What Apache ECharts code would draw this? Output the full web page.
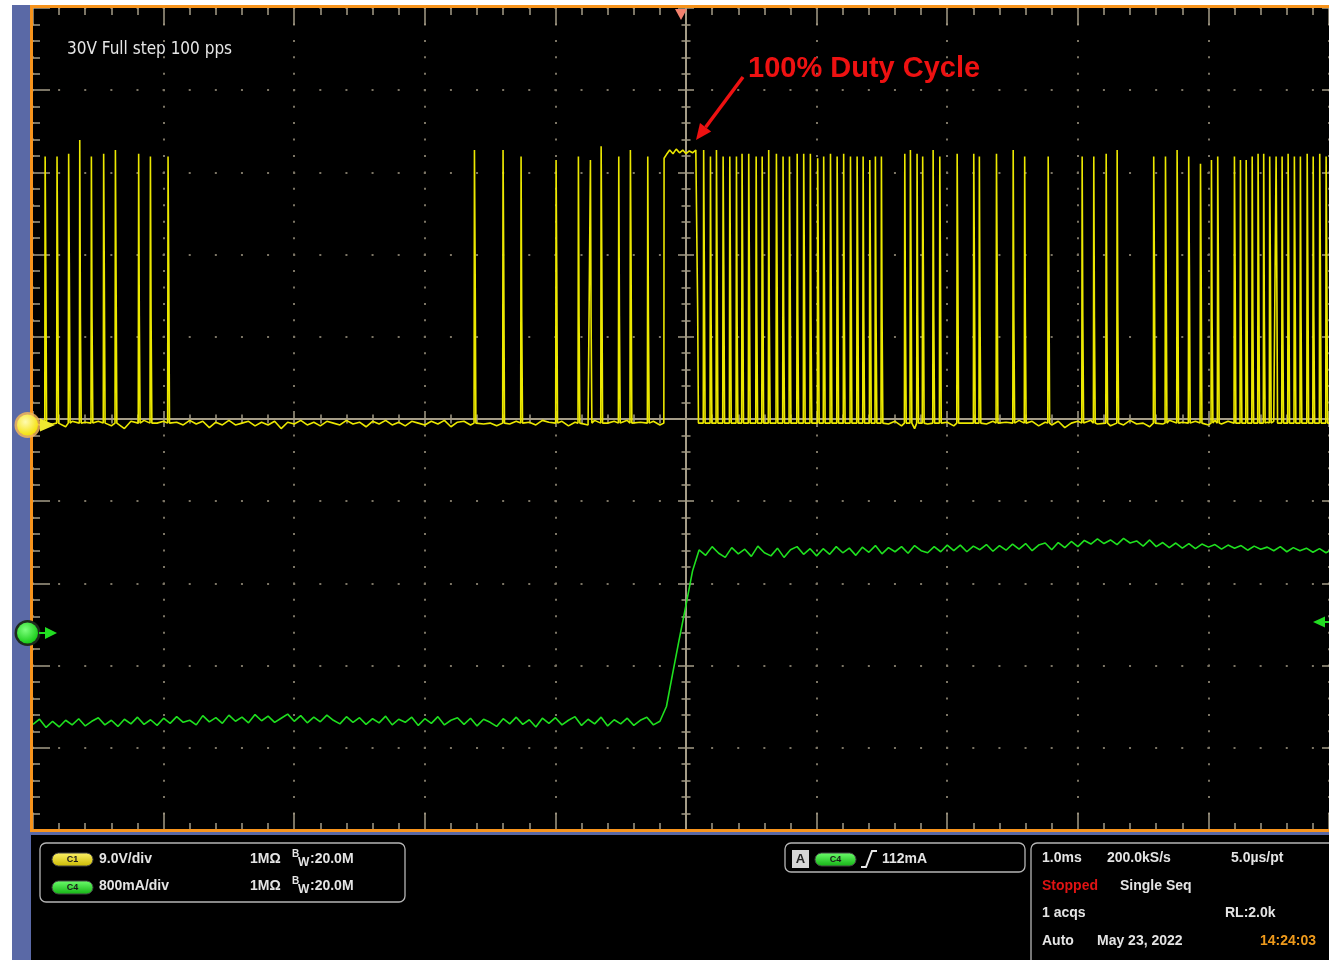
<!DOCTYPE html>
<html><head><meta charset="utf-8">
<script src="https://cdn.jsdelivr.net/npm/echarts@6/dist/echarts.min.js"></script>
<style>html,body{margin:0;padding:0;background:#fff;overflow:hidden}#c{width:1329px;height:960px}</style>
</head><body><div id="c"></div><script>
// ---- Channel 1 (9.0 V/div): pulse edges, times in ms, levels in V ----
const pulseTimes = [
 -4.910,-4.819,-4.730,-4.645,-4.556,-4.462,-4.372,-4.194,-4.104,-3.969,
 -1.623,-1.404,-1.266,-0.998,-0.827,-0.735,-0.653,-0.518,-0.429,-0.296,
 0.132,0.184,0.230,0.281,0.332,0.383,0.426,0.477,0.534,0.580,
 0.630,0.689,0.740,0.789,0.848,0.898,0.949,1.005,1.051,1.103,
 1.154,1.204,1.256,1.307,1.353,1.404,1.447,1.493,
 1.672,1.715,1.766,1.809,1.889,1.940,2.073,2.200,2.243,2.374,
 2.502,2.590,2.770,3.030,3.119,3.214,3.298,3.578,3.668,3.757,
 3.846,3.936,4.020,4.068,4.196,4.242,4.286,4.332,4.377,4.420,
 4.466,4.515,4.561,4.607,4.655,4.701,4.753,4.799,4.849,4.898];
const pulsePeaks = [
 29.2,29.2,29.5,31.0,29.2,29.5,29.9,29.5,29.2,29.2,
 29.9,29.9,29.2,28.8,29.2,28.8,30.3,29.2,29.9,29.2,
 29.9,29.2,29.9,29.2,29.2,29.2,29.5,29.5,29.2,29.2,
 29.9,29.5,29.2,29.2,29.5,29.5,29.5,29.0,29.2,29.5,
 29.2,29.5,29.2,29.2,29.2,28.8,29.2,29.2,
 29.5,29.9,29.5,29.2,29.9,29.2,29.5,29.5,29.2,29.5,
 29.9,29.2,29.2,29.2,29.2,29.5,29.9,29.2,29.2,29.9,
 29.2,28.4,28.8,29.2,29.2,28.8,28.8,29.2,29.5,29.5,
 29.2,29.2,29.2,29.5,29.2,29.2,29.5,29.2,29.5,29.2];
const pulseMids = [
 17.3,17.3,17.6,11.7,11.6,29.3,29.7,11.7,11.7,17.5,
 18.0,18.0,11.7,17.0,11.6,11.6,18.2,11.7,18.2,11.6,
 17.6,11.8,17.5,17.3,17.3,11.7,17.3,17.3,11.7,17.3,
 11.7,17.4,11.7,17.3,11.7,17.3,11.6,17.5,17.3,17.3,
 17.5,11.7,17.3,17.3,11.7,17.3,11.6,11.6,
 11.7,17.6,11.7,17.3,11.7,17.3,17.6,17.3,11.7,17.5,
 11.7,11.6,17.3,11.7,11.6,11.7,12.0,17.3,17.5,17.8,
 17.3,17.1,11.4,17.3,17.3,11.6,17.3,11.7,17.5,11.7,
 17.6,17.5,11.6,17.6,17.5,11.7,17.5,11.7,17.5,17.1];
// the 100% duty-cycle block
const widePulseTimes  = [-0.168,-0.150,-0.125,-0.100,-0.075,-0.050,-0.025,0.000,0.025,0.050,0.075,0.084];
const widePulseLevels = [29.0,29.4,29.9,29.5,30.0,29.6,29.9,29.5,29.8,29.6,29.9,29.7];
const wideFallMid = 12.4;
// ch1 baseline, one value each 0.05 ms from -5 ms (V)
const ch1Noise = [
 0.1,-0.2,0.3,-0.1,0.0,-0.4,0.2,-0.2,0.1,-0.3,
 0.2,0.0,-0.3,0.1,-0.6,0.2,-0.1,0.3,-0.2,0.0,
 0.2,-0.3,0.1,-0.2,0.3,-0.1,0.2,-0.5,0.1,-0.2,
 0.3,-0.2,0.0,0.2,-0.3,0.1,-0.2,0.2,-0.6,0.1,
 -0.1,0.3,-0.2,0.1,-0.3,0.2,0.0,-0.2,0.3,-0.1,
 0.1,-0.4,0.2,-0.1,0.3,-0.2,0.1,-0.3,0.2,0.0,
 -0.2,0.2,-0.1,0.3,-0.4,0.1,0.2,-0.2,0.3,-0.1,
 0.0,-0.3,0.2,-0.1,0.2,-0.6,0.1,-0.2,0.3,0.1,
 -0.2,0.2,-0.3,0.1,0.2,-0.2,0.3,-0.4,0.0,0.2,
 -0.2,0.3,-0.1,0.1,-0.3,0.2,-0.2,0.3,-0.1,0.0,
 0.2,-0.3,0.1,-0.2,0.3,-0.1,0.0,-0.4,0.2,-0.1,
 0.3,-0.2,0.1,-0.5,0.2,0.0,-0.2,0.3,-0.1,0.1,
 -0.3,0.2,-0.1,0.3,-0.2,0.1,-0.4,0.2,0.0,-0.2,
 0.3,-0.1,0.2,-0.3,0.1,-0.6,0.2,-0.1,0.3,-0.2,
 0.1,-0.3,0.2,0.0,-0.2,0.3,-0.1,0.2,-0.4,0.1,
 -0.2,0.3,-0.1,0.2,-0.3,0.1,-0.2,0.2,-0.5,0.0,
 0.2,-0.2,0.3,-0.1,0.1,-0.3,0.2,-0.2,0.3,-0.1,
 0.0,-0.4,0.2,-0.1,0.3,-0.2,0.1,-0.6,0.2,0.0,
 -0.2,0.3,-0.1,0.2,-0.3,0.1,-0.2,0.3,-0.4,0.1,
 0.2,-0.2,0.1,-0.3,0.3,-0.1,0.2,-0.2,0.1,0.0];
// ---- Channel 4 (800 mA/div): one value each 0.05 ms from -5 ms (mA) ----
const ch4Current = [
 -900,-850,-930,-870,-925,-860,-905,-845,-915,-870,
 -835,-905,-860,-920,-850,-895,-830,-900,-855,-910,
 -840,-890,-825,-880,-860,-905,-815,-875,-835,-890,
 -810,-870,-830,-885,-805,-865,-820,-880,-840,-800,
 -870,-815,-885,-830,-875,-810,-860,-895,-825,-880,
 -835,-900,-845,-885,-820,-905,-850,-880,-830,-910,
 -845,-890,-825,-905,-860,-835,-900,-840,-915,-850,
 -880,-920,-845,-895,-830,-900,-855,-925,-840,-890,
 -835,-905,-860,-825,-910,-850,-895,-830,-915,-855,
 -895,-840,-910,-860,-830,-905,-870,
 -726,-389,-58,263,594,798,
 745,830,765,725,820,760,805,735,835,770,740,815,725,800,830,755,810,740,
 810,755,830,770,815,745,825,775,840,760,820,780,830,765,840,790,770,830,780,845,
 790,845,780,835,800,850,785,840,795,855,805,860,790,845,865,800,870,820,880,830,
 890,855,905,860,895,850,910,865,885,835,895,830,870,820,865,815,860,810,855,825,
 850,805,845,815,840,795,835,805,825,790,830,780,820,790,815,775,810,770,805,785];

const tStart = -5, ch1Step = 0.05, ch4Step = 0.05;
const tMin = -5, tMax = 4.923;                // visible span of the 10-division screen
const ch1VoltsPerDiv = 9.0, ch1Pos = -0.05;   // divisions
const ch4mAPerDiv = 800, ch4Pos = -2.59;      // divisions

// build channel 1 trace
const pts = [];
pulseTimes.forEach((t, i) => {
  pts.push([t, 0], [t + 0.003, pulsePeaks[i]], [t + 0.008, pulseMids[i]], [t + 0.014, 0]);
});
const ws = widePulseTimes[0], we = widePulseTimes[widePulseTimes.length - 1];
pts.push([ws - 0.002, 0]);
widePulseTimes.forEach((t, i) => pts.push([t, widePulseLevels[i]]));
pts.push([we + 0.005, wideFallMid], [we + 0.011, 0]);
function busy(t) {
  if (t > ws - 0.02 && t < we + 0.03) return true;
  return pulseTimes.some(p => t > p - 0.015 && t < p + 0.03);
}
ch1Noise.forEach((v, k) => { const t = tStart + k * ch1Step; if (!busy(t)) pts.push([t, v]); });
pts.sort((a, b) => a[0] - b[0]);
const ch1Data = pts.map(p => [p[0], p[1] / ch1VoltsPerDiv + ch1Pos]);
const ch4Data = ch4Current.map((v, i) => [tStart + i * ch4Step, v / ch4mAPerDiv + ch4Pos]);

// ---- styling ----
const tickColor = '#a49c87', dotColor = '#7c7565', orange = '#f7941d', blue = '#5a69a6';
const hidden = { show: false };
const noLine = { show: false, onZero: false };
function xAx(pos, opts) {
  return Object.assign({ type: 'value', min: tMin, max: tMax, interval: 1, position: pos,
    axisLabel: hidden, axisLine: noLine, splitLine: { show: false } }, opts);
}
function yAx(pos, opts) {
  return Object.assign({ type: 'value', min: -5, max: 5, interval: 1, position: pos,
    axisLabel: hidden, axisLine: noLine, splitLine: { show: false } }, opts);
}
const ts = { color: tickColor, width: 1.5 };
const edgeTick = { show: true, inside: true, length: 17, lineStyle: ts };
const edgeMinor = { show: true, splitNumber: 5, length: 7, lineStyle: ts };
const cTickOut = { show: true, inside: false, length: 8, lineStyle: ts };
const cTickIn = { show: true, inside: true, length: 8, lineStyle: ts };
const cMinor = { show: true, splitNumber: 5, length: 4.5, lineStyle: ts };
const cLine = { show: true, onZero: false, lineStyle: { color: tickColor, width: 2 } };

const F = "'Liberation Sans', Arial, sans-serif";
const txtCol = '#e4e4e4';
function T(x, y, text, o) {
  o = o || {};
  return { type: 'text', x: x, y: y, z: 20, style: { text: text, fill: o.fill || txtCol,
    font: o.font || ('bold 14px ' + F), align: o.align || 'left', textAlign: o.align || 'left',
    verticalAlign: 'middle', textVerticalAlign: 'middle' } };
}
function pill(x, y, label, c1, c2) {
  return [
    { type: 'rect', z: 20, shape: { x: x, y: y, width: 41, height: 13, r: 6.5 },
      style: { fill: { type: 'linear', x: 0, y: 0, x2: 0, y2: 1, colorStops: [{ offset: 0, color: c1 }, { offset: 1, color: c2 }] },
        stroke: '#444', lineWidth: 1 } },
    T(x + 20.5, y + 7, label, { fill: '#1a1a1a', font: 'bold 9px ' + F, align: 'center' })
  ];
}
const box = (x, y, w, h) => ({ type: 'rect', z: 20, shape: { x: x, y: y, width: w, height: h, r: 6 },
  style: { fill: 'none', stroke: '#b5b5b5', lineWidth: 1.3 } });
const rect = (x, y, w, h, fill, z) => ({ type: 'rect', z: z || 1, shape: { x: x, y: y, width: w, height: h }, style: { fill: fill } });

const graphics = [
  rect(12, 5, 19, 955, blue),
  rect(31, 834, 1298, 126, '#000'),
  rect(31, 832, 1298, 3, blue),
  // screen frame
  rect(30, 5, 1299, 3, orange, 19),
  rect(30, 5, 3, 827, orange, 19),
  rect(30, 829, 1299, 3, orange, 19),
  // annotation
  T(67, 50, '30V Full step 100 pps', { font: "17px 'Liberation Sans Narrow', 'DejaVu Sans Condensed', sans-serif", fill: '#e6e6e6' }),
  T(748, 69, '100% Duty Cycle', { font: 'bold 29px ' + F, fill: '#ee1111' }),
  { type: 'polyline', z: 20, shape: { points: [[743, 77], [705.6, 127.2]] }, style: { stroke: '#ee1111', lineWidth: 3.5 } },
  { type: 'polygon', z: 20, shape: { points: [[696, 140], [711.2, 131.4], [700.0, 123.0]] }, style: { fill: '#ee1111' } },
  // trigger position marker
  { type: 'polygon', z: 20, shape: { points: [[675, 9], [687, 9], [681, 20]] }, style: { fill: '#f4826e' } },
  // channel markers
  { type: 'circle', z: 20, shape: { cx: 27.5, cy: 425, r: 13 }, style: { fill: '#f2b65a', opacity: 0.85 } },
  { type: 'circle', z: 21, shape: { cx: 27.5, cy: 425, r: 10.5 },
    style: { fill: { type: 'radial', x: 0.4, y: 0.35, r: 0.7, colorStops: [{ offset: 0, color: '#fffbb0' }, { offset: 1, color: '#f4e000' }] } } },
  T(27.5, 425, '1', { fill: '#6b5e10', font: 'bold 12px ' + F, align: 'center' }),
  { type: 'polygon', z: 21, shape: { points: [[40, 418.5], [55, 425], [40, 431.5]] }, style: { fill: '#f0ea30' } },
  { type: 'circle', z: 20, shape: { cx: 27.5, cy: 633, r: 13 }, style: { fill: '#1e2a1e' } },
  { type: 'circle', z: 21, shape: { cx: 27.5, cy: 633, r: 10.5 },
    style: { fill: { type: 'radial', x: 0.4, y: 0.35, r: 0.7, colorStops: [{ offset: 0, color: '#7dff7d' }, { offset: 1, color: '#12c812' }] } } },
  T(27.5, 633, '4', { fill: '#0b4d0b', font: 'bold 12px ' + F, align: 'center' }),
  { type: 'polyline', z: 21, shape: { points: [[39, 633], [47, 633]] }, style: { stroke: '#22dd22', lineWidth: 2 } },
  { type: 'polygon', z: 21, shape: { points: [[45, 627], [57, 633], [45, 639]] }, style: { fill: '#22dd22' } },
  { type: 'polygon', z: 21, shape: { points: [[1313, 622], [1325, 616.5], [1325, 627.5]] }, style: { fill: '#22dd22' } },
  { type: 'polyline', z: 21, shape: { points: [[1322, 622], [1329, 622]] }, style: { stroke: '#22dd22', lineWidth: 2 } },
  // bottom info panels
  box(40, 843, 365, 59),
  ...pill(52, 853, 'C1', '#fff36a', '#c9b800'),
  T(99, 859, '9.0V/div'), T(250, 859, '1MΩ'),
  T(292, 854, 'B', { font: 'bold 10px ' + F }), T(298, 863, 'W', { font: 'bold 12px ' + F }), T(310, 859, ':20.0M'),
  ...pill(52, 881, 'C4', '#6dff6d', '#12b012'),
  T(99, 886, '800mA/div'), T(250, 886, '1MΩ'),
  T(292, 881, 'B', { font: 'bold 10px ' + F }), T(298, 890, 'W', { font: 'bold 12px ' + F }), T(310, 886, ':20.0M'),
  box(785, 843, 240, 29),
  { type: 'rect', z: 20, shape: { x: 792, y: 850, width: 17, height: 18 }, style: { fill: '#d6d6d6' } },
  T(800.5, 859, 'A', { fill: '#222', font: 'bold 13px ' + F, align: 'center' }),
  ...pill(815, 853, 'C4', '#6dff6d', '#12b012'),
  { type: 'polyline', z: 20, shape: { points: [[861, 867], [866, 867], [872, 851], [877, 851]] }, style: { stroke: '#e8e8e8', lineWidth: 2 } },
  T(882, 859, '112mA'),
  box(1031, 843, 320, 130),
  T(1042, 858, '1.0ms'), T(1107, 858, '200.0kS/s'), T(1231, 858, '5.0µs/pt'),
  T(1042, 886, 'Stopped', { fill: '#e01313' }), T(1120, 886, 'Single Seq'),
  T(1042, 913, '1 acqs'), T(1225, 913, 'RL:2.0k'),
  T(1042, 941, 'Auto'), T(1097, 941, 'May 23, 2022'), T(1260, 941, '14:24:03', { fill: '#ee9a1c' })
];

const chart = echarts.init(document.getElementById('c'), null, { renderer: 'canvas' });
chart.setOption({
  animation: false,
  backgroundColor: 'transparent',
  grid: { left: 33, top: 8, right: 0, bottom: 130, show: true, backgroundColor: '#000',
    borderWidth: 0, containLabel: false },
  xAxis: [
    xAx('top', { axisTick: edgeTick, minorTick: edgeMinor,
      splitLine: { show: true, lineStyle: { color: dotColor, width: 2, type: [2, 14.44], dashOffset: 1 } } }),
    xAx('bottom', { axisTick: edgeTick, minorTick: edgeMinor }),
    xAx('bottom', { offset: -411, axisLine: cLine, axisTick: cTickOut, minorTick: cMinor }),
    xAx('bottom', { offset: -411, axisTick: cTickIn, minorTick: cMinor })
  ],
  yAxis: [
    yAx('left', { axisTick: edgeTick, minorTick: edgeMinor,
      splitLine: { show: true, lineStyle: { color: dotColor, width: 2, type: [2, 24.12], dashOffset: 1 } } }),
    yAx('right', { axisTick: { show: true, inside: true, length: 7, lineStyle: ts } }),
    yAx('left', { offset: -653, axisLine: cLine, axisTick: cTickOut, minorTick: cMinor }),
    yAx('left', { offset: -653, axisTick: cTickIn, minorTick: cMinor })
  ],
  series: [
    { name: 'C1', type: 'line', xAxisIndex: 0, yAxisIndex: 0, data: ch1Data, showSymbol: false, silent: true,
      lineStyle: { color: '#ece800', width: 1.6 }, z: 5 },
    { name: 'C4', type: 'line', xAxisIndex: 0, yAxisIndex: 0, data: ch4Data, showSymbol: false, silent: true,
      lineStyle: { color: '#1fe01f', width: 1.6 }, z: 4 }
  ],
  graphic: { elements: graphics }
});
</script></body></html>
